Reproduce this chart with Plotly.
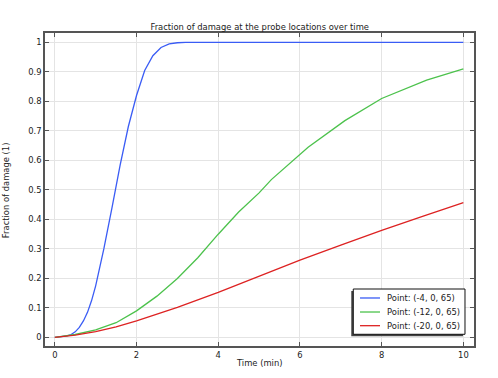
import plotly.graph_objects as go

blue_t = [0, 0.2, 0.3, 0.4, 0.5, 0.6, 0.7, 0.8, 0.9, 1.0, 1.2, 1.4, 1.6, 1.8, 2.0, 2.2, 2.4, 2.6, 2.8, 3.0, 3.2, 4, 5, 6, 7, 8, 9, 10]
blue_v = [0, 0.002, 0.005, 0.01, 0.019, 0.034, 0.056, 0.085, 0.125, 0.175, 0.3, 0.44, 0.585, 0.715, 0.82, 0.905, 0.955, 0.983, 0.995, 0.999, 1.0, 1.0, 1.0, 1.0, 1.0, 1.0, 1.0, 1.0]

green_t = [0, 0.5, 1.0, 1.5, 2.0, 2.5, 3.0, 3.5, 4.0, 4.5, 5.0, 5.3, 6.2, 7.1, 8.0, 9.1, 10]
green_v = [0, 0.01, 0.026, 0.05, 0.09, 0.14, 0.2, 0.27, 0.35, 0.425, 0.49, 0.535, 0.645, 0.735, 0.81, 0.872, 0.91]

red_t = [0, 0.5, 1.0, 1.5, 2.0, 2.5, 3.0, 4.0, 5.0, 6.0, 7.0, 8.0, 9.0, 10.0]
red_v = [0, 0.008, 0.02, 0.036, 0.056, 0.078, 0.102, 0.153, 0.208, 0.262, 0.313, 0.363, 0.41, 0.457]

names = ["Point: (-4, 0, 65)", "Point: (-12, 0, 65)", "Point: (-20, 0, 65)"]
colors = ["#3a5cf5", "#4cc24c", "#dd2222"]

x_ticks = [0, 2, 4, 6, 8, 10]
y_ticks = [0, 0.1, 0.2, 0.3, 0.4, 0.5, 0.6, 0.7, 0.8, 0.9, 1]
y_labels = ["0", "0.1", "0.2", "0.3", "0.4", "0.5", "0.6", "0.7", "0.8", "0.9", "1"]

FONT = "DejaVu Sans"
FS = 8.4
TXT = "#222222"

fig = go.Figure()
for t, v, n, c in zip([blue_t, green_t, red_t], [blue_v, green_v, red_v], names, colors):
    fig.add_trace(go.Scatter(x=t, y=v, mode="lines", name=n, showlegend=False,
                             line=dict(color=c, width=1.3)))

axis_common = dict(showline=True, linecolor="#555555", linewidth=1.5, mirror="ticks",
                   ticks="inside", ticklen=4, tickcolor="#555555", tickwidth=1,
                   showgrid=True, gridcolor="#e4e4e4", gridwidth=1, zeroline=False,
                   automargin=False,
                   tickfont=dict(family=FONT, size=FS, color=TXT))

# Legend box (paper coords relative to plot area), drawn manually
lx0, lx1, ly0, ly1 = 0.7186, 0.979, 0.0374, 0.1821
shapes = [
    dict(type="rect", xref="paper", yref="paper", x0=lx0 - 0.0047, x1=lx1 - 0.0047,
         y0=ly0 - 0.0064, y1=ly1 - 0.0064, fillcolor="#444444", line=dict(width=0), layer="above"),
    dict(type="rect", xref="paper", yref="paper", x0=lx0, x1=lx1, y0=ly0, y1=ly1,
         fillcolor="white", line=dict(color="#111111", width=1), layer="above"),
]
annotations = []
row_y = [0.1534, 0.1086, 0.0649]
for n, c, ry in zip(names, colors, row_y):
    shapes.append(dict(type="line", xref="paper", yref="paper", x0=0.7343, x1=0.7809,
                       y0=ry, y1=ry, line=dict(color=c, width=1.3), layer="above"))
    annotations.append(dict(text=n, xref="paper", yref="paper", x=0.7925, y=ry,
                            xanchor="left", yanchor="middle", showarrow=False,
                            font=dict(family=FONT, size=FS, color=TXT)))

annotations.append(dict(text="Time (min)", xref="paper", yref="paper", x=0.501, y=-0.0534,
                        xanchor="center", yanchor="middle", showarrow=False,
                        font=dict(family=FONT, size=FS, color=TXT)))
annotations.append(dict(text="Fraction of damage (1)", xref="paper", yref="paper",
                        x=-0.0893, y=0.497, xanchor="center", yanchor="middle",
                        textangle=-90, showarrow=False,
                        font=dict(family=FONT, size=FS, color=TXT)))

fig.update_layout(
    width=498, height=378,
    margin=dict(l=45, r=24, t=33, b=32),
    paper_bgcolor="white", plot_bgcolor="white",
    title=dict(text="Fraction of damage at the probe locations over time",
               x=0.5005, xref="paper", y=1 - 26.7 / 378, yanchor="middle",
               font=dict(family=FONT, size=FS, color=TXT)),
    xaxis=dict(range=[-0.24, 10.26], tickvals=x_ticks, ticktext=[str(v) for v in x_ticks],
               **axis_common),
    yaxis=dict(range=[-0.029, 1.032], tickvals=y_ticks, ticktext=y_labels,
               **axis_common),
    showlegend=False,
    shapes=shapes,
    annotations=annotations,
)

fig.write_html("out.html", config={"displayModeBar": False},
               post_script="document.body.style.margin='0';")
